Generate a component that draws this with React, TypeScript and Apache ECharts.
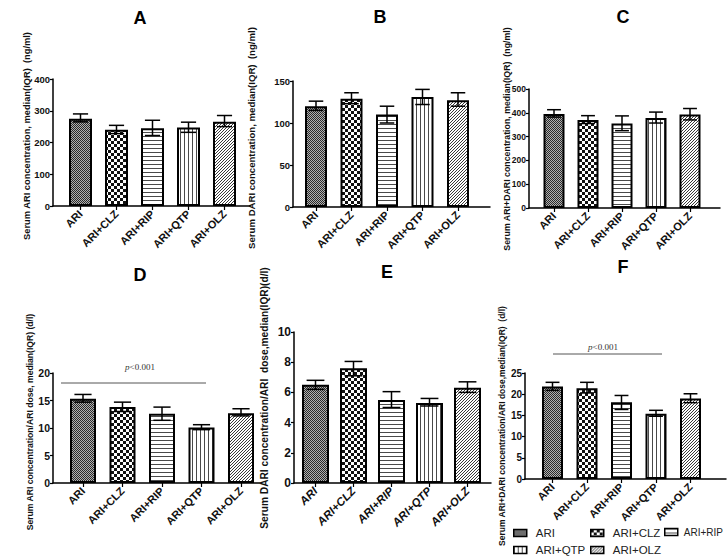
import React, { useEffect, useRef } from "react";
import * as echarts from "echarts";

const categories = ["ARI", "ARI+CLZ", "ARI+RIP", "ARI+QTP", "ARI+OLZ"];

// Panel A: Serum ARI concentration (ng/ml)
const aMedian = [275, 240, 245, 247, 265];
const aLow = [265, 228, 222, 232, 250];
const aHigh = [290, 254, 270, 264, 285];
// Panel B: Serum DARI concentration (ng/ml)
const bMedian = [120, 129, 110, 131, 127];
const bLow = [115, 123, 100, 122, 120];
const bHigh = [126, 136, 120, 140, 136];
// Panel C: Serum ARI+DARI concentration (ng/ml)
const cMedian = [395, 370, 355, 378, 393];
const cLow = [382, 355, 325, 357, 370];
const cHigh = [413, 388, 387, 403, 418];
// Panel D: ARI concentration / ARI dose (d/l)
const dMedian = [15.3, 13.8, 12.6, 10.1, 12.7];
const dLow = [14.7, 13.0, 11.4, 9.7, 12.2];
const dHigh = [16.1, 14.7, 13.8, 10.6, 13.5];
// Panel E: DARI concentration / ARI dose (d/l)
const eMedian = [6.5, 7.6, 5.5, 5.3, 6.3];
const eLow = [6.2, 7.1, 5.0, 5.1, 6.0];
const eHigh = [6.8, 8.05, 6.05, 5.6, 6.7];
// Panel F: ARI+DARI concentration / ARI dose (d/l)
const fMedian = [21.8, 21.4, 18.1, 15.4, 19.0];
const fLow = [20.9, 20.3, 16.4, 14.8, 18.0];
const fHigh = [22.8, 22.8, 19.7, 16.2, 20.1];

const FONT = "'Liberation Sans', Arial, Helvetica, sans-serif";
const SERIF = "'Liberation Serif', 'Times New Roman', serif";

type Panel = {
  title: string; med: number[]; low: number[]; high: number[];
  max: number; step: number;
  axisX: number; c0: number; s: number; xEnd: number; top: number; bottom: number; barW: number;
  tx: number; ty: number; tickFont: number;
  yName: string; nx: number; ny: number; nSize: number;
  italicX?: boolean;
};

const panels: Panel[] = [
  { title: "A", med: aMedian, low: aLow, high: aHigh, max: 400, step: 100, axisX: 53, c0: 80.5, s: 36, xEnd: 251, top: 79, bottom: 206, barW: 23, tx: 140, ty: 18, tickFont: 9.5, yName: "Serum ARI concentration, median(IQR)  (ng/ml)", nx: 27, ny: 136, nSize: 9.3 },
  { title: "B", med: bMedian, low: bLow, high: bHigh, max: 150, step: 50, axisX: 293, c0: 316, s: 35.5, xEnd: 490, top: 81, bottom: 207, barW: 22, tx: 380, ty: 17, tickFont: 9.5, yName: "Serum DARI concentration, median(IQR)  (ng/ml)", nx: 251, ny: 138, nSize: 9.6 },
  { title: "C", med: cMedian, low: cLow, high: cHigh, max: 500, step: 100, axisX: 529, c0: 554, s: 34, xEnd: 720, top: 89, bottom: 208, barW: 21, tx: 623, ty: 17, tickFont: 8.5, yName: "Serum ARI+DARI concentration, median(IQR)  (ng/ml)", nx: 507, ny: 139, nSize: 8.8 },
  { title: "D", med: dMedian, low: dLow, high: dHigh, max: 20, step: 5, axisX: 53, c0: 83, s: 39.5, xEnd: 260, top: 373, bottom: 483, barW: 26, tx: 140, ty: 275, tickFont: 10.5, yName: "Serum ARI concentration/ARI dose, median(IQR) (d/l)", nx: 30, ny: 422, nSize: 8.6 },
  { title: "E", med: eMedian, low: eLow, high: eHigh, max: 10, step: 2, axisX: 294, c0: 315.5, s: 38, xEnd: 491, top: 332, bottom: 483, barW: 27, tx: 387, ty: 272, tickFont: 12, yName: "Serum DARI concentration/ARI  dose,median(IQR)(d/l)", nx: 264, ny: 398, nSize: 10.2, italicX: true },
  { title: "F", med: fMedian, low: fLow, high: fHigh, max: 25, step: 5, axisX: 525, c0: 552.5, s: 34.5, xEnd: 726, top: 373, bottom: 479, barW: 21, tx: 623, ty: 267, tickFont: 10, yName: "Serum ARI+DARI concentration/ARI dose,median(IQR)  (d/l)", nx: 502, ny: 426, nSize: 8.5 },
];

function makePattern(kind: number) {
  const size = kind === 0 ? 2 : kind === 1 ? 6 : kind === 4 ? 3 : 4;
  const cv = document.createElement("canvas");
  cv.width = size; cv.height = size;
  const ctx = cv.getContext("2d")!;
  ctx.fillStyle = "#ffffff";
  ctx.fillRect(0, 0, size, size);
  if (kind === 0) {
    ctx.fillStyle = "#b0b0b0";
    ctx.fillRect(0, 0, 2, 2);
    ctx.fillStyle = "#2a2a2a";
    ctx.fillRect(0, 0, 1, 1);
    ctx.fillRect(1, 1, 1, 1);
  } else if (kind === 1) {
    ctx.fillStyle = "#111111";
    ctx.fillRect(0, 0, 3, 3);
    ctx.fillRect(3, 3, 3, 3);
  } else if (kind === 2) {
    ctx.fillStyle = "#4a4a4a";
    ctx.fillRect(0, 0, size, 1);
  } else if (kind === 3) {
    ctx.fillStyle = "#4a4a4a";
    ctx.fillRect(0, 0, 1, size);
  } else {
    ctx.fillStyle = "#3a3a3a";
    for (let x = 0; x < size; x++) {
      for (let y = 0; y < size; y++) {
        if ((x + y) % 3 === 2) ctx.fillRect(x, y, 1, 1);
      }
    }
  }
  return { image: cv.toDataURL(), repeat: "repeat", imageWidth: size, imageHeight: size } as any;
}

export default function App() {
  const ref = useRef<HTMLDivElement>(null);
  useEffect(() => {
    if (!ref.current) return;
    const chart = echarts.init(ref.current, null, { renderer: "svg" });
    const patterns = categories.map((_, i) => makePattern(i));

    const grid: any[] = [];
    const xAxis: any[] = [];
    const yAxis: any[] = [];
    const series: any[] = [];
    const graphic: any[] = [];

    panels.forEach((p, pi) => {
      grid.push({ left: p.axisX, top: p.top, width: p.xEnd - p.axisX, height: p.bottom - p.top, containLabel: false });
      xAxis.push({
        type: "value", gridIndex: pi,
        min: (p.axisX - p.c0) / p.s, max: (p.xEnd - p.c0) / p.s,
        axisLine: { show: true, onZero: false, lineStyle: { color: "#000", width: 1.5 } },
        axisTick: { show: true, customValues: [0, 1, 2, 3, 4], length: 4, lineStyle: { color: "#000", width: 1.2 } },
        axisLabel: {
          customValues: [0, 1, 2, 3, 4], rotate: 45, margin: 6,
          formatter: (v: number) => categories[Math.round(v)] ?? "",
          fontFamily: FONT, fontWeight: "bold", fontSize: p.italicX ? 11.5 : 11,
          fontStyle: p.italicX ? "italic" : "normal", color: "#111",
        },
        splitLine: { show: false },
      });
      yAxis.push({
        type: "value", gridIndex: pi, min: 0, max: p.max, interval: p.step,
        axisLine: { show: true, onZero: false, lineStyle: { color: "#000", width: 1.5 } },
        axisTick: { show: true, length: 3, lineStyle: { color: "#000", width: 1.2 } },
        axisLabel: { fontFamily: FONT, fontWeight: "bold", fontSize: p.tickFont, color: "#111", margin: 3 },
        splitLine: { show: false },
      });
      categories.forEach((c, j) => {
        series.push({
          type: "bar", name: c, xAxisIndex: pi, yAxisIndex: pi,
          data: [[j, p.med[j]]], barWidth: p.barW, barGap: "-100%",
          itemStyle: { color: patterns[j], borderColor: "#000", borderWidth: 2 },
          emphasis: { disabled: true },
        });
      });
      const capHalf = p.barW * 0.33;
      series.push({
        type: "custom", xAxisIndex: pi, yAxisIndex: pi, z: 10,
        data: p.low.map((l, j) => [j, l, p.high[j]]),
        encode: { x: 0, y: [1, 2] },
        renderItem: (_params: any, api: any) => {
          const x = api.value(0);
          const hi = api.coord([x, api.value(2)]);
          const lo = api.coord([x, api.value(1)]);
          const st = { stroke: "#000", lineWidth: 1.5 };
          return {
            type: "group",
            children: [
              { type: "line", shape: { x1: hi[0], y1: hi[1], x2: lo[0], y2: lo[1] }, style: st },
              { type: "line", shape: { x1: hi[0] - capHalf, y1: hi[1], x2: hi[0] + capHalf, y2: hi[1] }, style: st },
              { type: "line", shape: { x1: lo[0] - capHalf, y1: lo[1], x2: lo[0] + capHalf, y2: lo[1] }, style: st },
            ],
          };
        },
      });
      graphic.push({
        type: "text", x: p.tx, y: p.ty,
        style: { text: p.title, fontFamily: FONT, fontWeight: "bold", fontSize: 18, fill: "#000", align: "center", verticalAlign: "middle" },
      });
      graphic.push({
        type: "text", x: p.nx, y: p.ny, rotation: Math.PI / 2,
        style: { text: p.yName, fontFamily: FONT, fontWeight: "bold", fontSize: p.nSize, fill: "#111", align: "center", verticalAlign: "middle" },
      });
    });

    // significance annotations (D and F)
    const sig = [
      { tx: 140, ty: 367, x1: 61, x2: 206, y: 383 },
      { tx: 603, ty: 347, x1: 553, x2: 662, y: 354 },
    ];
    sig.forEach((s) => {
      graphic.push({ type: "line", shape: { x1: s.x1, y1: s.y, x2: s.x2, y2: s.y }, style: { stroke: "#555", lineWidth: 1 } });
      graphic.push({
        type: "text", x: s.tx, y: s.ty,
        style: {
          text: "{i|p}<0.001", fontFamily: SERIF, fontSize: 9, fill: "#333", align: "center", verticalAlign: "middle",
          rich: { i: { fontStyle: "italic", fontFamily: SERIF, fontSize: 9, fill: "#333" } },
        },
      });
    });

    const legendBase = {
      orient: "vertical", top: 527, itemWidth: 13, itemHeight: 7, itemGap: 5, icon: "rect", padding: 0,
      selectedMode: false,
      textStyle: { fontFamily: FONT, fontSize: 11.5, color: "#222", padding: [0, 0, 0, 4] },
      itemStyle: { borderColor: "#000", borderWidth: 1.5 },
    };
    const legend = [
      { ...legendBase, left: 513, data: ["ARI", "ARI+QTP"] },
      { ...legendBase, left: 590, data: ["ARI+CLZ", "ARI+OLZ"] },
      { ...legendBase, left: 664, data: ["ARI+RIP"], textStyle: { ...legendBase.textStyle, fontSize: 10, padding: [0, 0, 0, 1] } },
    ];

    chart.setOption({
      animation: false,
      backgroundColor: "#fff",
      grid, xAxis, yAxis, series, graphic, legend,
    });
    return () => chart.dispose();
  }, []);
  return <div ref={ref} style={{ position: "fixed", left: 0, top: 0, width: 727, height: 556 }} />;
}
